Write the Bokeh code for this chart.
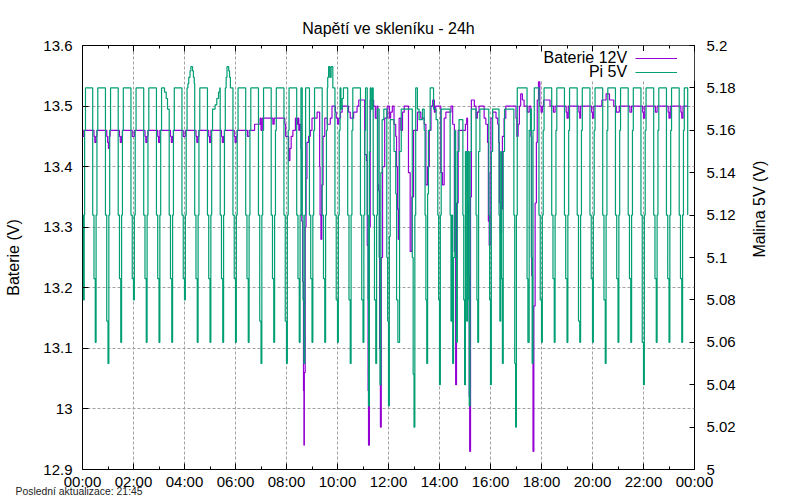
import math
from bokeh.plotting import figure
from bokeh.models import (Range1d, LinearAxis, FixedTicker, CustomJSTickFormatter,
                          Legend, LegendItem, Label, BoxAnnotation, Title)
from bokeh.embed import file_html
from bokeh.resources import INLINE

FONT = "Liberation Sans"
TITLE = "Napětí ve skleníku - 24h"
FOOTER = "Poslední aktualizace: 21:45"
BAT_NAME = "Baterie 12V"
PI_NAME = "Pi 5V"
BAT_COLOR = "#9400D3"
PI_COLOR = "#009E73"

# tick values / labels
x_ticks = [0, 2, 4, 6, 8, 10, 12, 14, 16, 18, 20, 22, 24]
x_minor = [1, 3, 5, 7, 9, 11, 13, 15, 17, 19, 21, 23]
x_labels = ["00:00", "02:00", "04:00", "06:00", "08:00", "10:00", "12:00",
            "14:00", "16:00", "18:00", "20:00", "22:00", "00:00"]
y_ticks = [12.9, 13.0, 13.1, 13.2, 13.3, 13.4, 13.5, 13.6]
y_labels = ["12.9", "13", "13.1", "13.2", "13.3", "13.4", "13.5", "13.6"]
y2_ticks = [5.0, 5.02, 5.04, 5.06, 5.08, 5.1, 5.12, 5.14, 5.16, 5.18, 5.2]
y2_labels = ["5", "5.02", "5.04", "5.06", "5.08", "5.1", "5.12", "5.14", "5.16", "5.18", "5.2"]

# ---- Baterie 12V: (minute of day, volts) ----
bat_0000_0700 = [
    (0, 13.45), (3, 13.46),
    (27, 13.45), (29, 13.44), (32, 13.45), (34, 13.46),
    (57, 13.45), (59, 13.44), (61, 13.43), (63, 13.45), (65, 13.46),
    (87, 13.45), (89, 13.44), (92, 13.45), (94, 13.46),
    (117, 13.45), (122, 13.46),
    (147, 13.45), (149, 13.44), (152, 13.45), (154, 13.46),
    (177, 13.45), (179, 13.44), (182, 13.46),
    (207, 13.45), (209, 13.44), (212, 13.45), (214, 13.46),
    (237, 13.45), (242, 13.46),
    (267, 13.45), (269, 13.44), (272, 13.45), (274, 13.46),
    (297, 13.45), (299, 13.44), (302, 13.46),
    (327, 13.45), (329, 13.44), (332, 13.45), (334, 13.46),
    (357, 13.45), (359, 13.44), (362, 13.45), (364, 13.46),
    (388, 13.45), (392, 13.46),
    (405, 13.47), (415, 13.47), (418, 13.48),
]
bat_0700_1200 = [
    (420, 13.46), (423, 13.48), (446, 13.48), (448, 13.47), (451, 13.48),
    (474, 13.48), (476, 13.47), (478, 13.45), (482, 13.45), (485, 13.41),
    (488, 13.43), (491, 13.45), (495, 13.46), (501, 13.48), (505, 13.47),
    (507, 13.48), (509, 13.46), (511, 13.47), (514, 13.43), (516, 13.31),
    (518, 13.21), (520, 13.03), (521, 12.94), (522, 13.06), (524, 13.30),
    (526, 13.38), (528, 13.44), (532, 13.45), (536, 13.46), (540, 13.48),
    (552, 13.49), (558, 13.40), (559, 13.32), (561, 13.28), (563, 13.37),
    (566, 13.45), (570, 13.48), (576, 13.47), (583, 13.48), (587, 13.50),
    (595, 13.49), (597, 13.48), (600, 13.47), (603, 13.48), (607, 13.49),
    (611, 13.50), (626, 13.49), (630, 13.48), (638, 13.49), (646, 13.50),
    (650, 13.51), (664, 13.42), (668, 13.41), (670, 13.27), (672, 13.03),
    (673, 12.94), (675, 13.30), (677, 13.51), (685, 13.50), (689, 13.48),
    (693, 13.50), (695, 13.37), (697, 13.36), (699, 13.10), (701, 12.97),
    (703, 13.25), (706, 13.40), (711, 13.48), (717, 13.50),
]
bat_1200_1800 = [
    (722, 13.48), (725, 13.49), (729, 13.50), (733, 13.47), (737, 13.45),
    (739, 13.40), (741, 13.33), (743, 13.28), (745, 13.48), (749, 13.46),
    (753, 13.49), (757, 13.50), (767, 13.39), (771, 13.26), (775, 13.35),
    (779, 13.46), (788, 13.49), (796, 13.48), (804, 13.47), (808, 13.37),
    (812, 13.40), (816, 13.46), (820, 13.50), (824, 13.51), (828, 13.49),
    (831, 13.50), (843, 13.39), (847, 13.37), (851, 13.48), (855, 13.49),
    (867, 13.50), (871, 13.47), (875, 13.26), (878, 13.04), (880, 13.34),
    (884, 13.46), (901, 13.47), (904, 13.48), (906, 13.34), (908, 13.22),
    (910, 13.02), (911, 12.93), (913, 13.35), (915, 13.51), (922, 13.50),
    (926, 13.48), (929, 13.49), (933, 13.50), (945, 13.48), (949, 13.47),
    (953, 13.44), (955, 13.31), (957, 13.27), (959, 13.39), (961, 13.48),
    (965, 13.49), (973, 13.48), (977, 13.47), (979, 13.44), (981, 13.34),
    (983, 13.29), (986, 13.33), (988, 13.45), (992, 13.48), (996, 13.50),
    (1020, 13.48), (1022, 13.45), (1025, 13.47), (1028, 13.50), (1031, 13.52),
    (1035, 13.51), (1039, 13.50), (1047, 13.49), (1051, 13.50), (1055, 13.45),
    (1057, 13.22), (1059, 13.08), (1060, 12.93), (1062, 13.17), (1065, 13.34),
    (1068, 13.44), (1070, 13.51), (1073, 13.54), (1076, 13.50),
]
bat_1800_2400 = [
    (1079, 13.49), (1082, 13.50), (1085, 13.51), (1100, 13.50), (1108, 13.49),
    (1112, 13.50), (1138, 13.49), (1140, 13.48), (1143, 13.50), (1168, 13.49),
    (1170, 13.48), (1172, 13.50), (1198, 13.49), (1200, 13.48), (1203, 13.50),
    (1222, 13.51), (1232, 13.52), (1240, 13.51), (1250, 13.50), (1256, 13.49),
    (1263, 13.50), (1288, 13.49), (1292, 13.50), (1318, 13.49), (1320, 13.48),
    (1323, 13.50), (1348, 13.49), (1352, 13.50), (1378, 13.49), (1380, 13.48),
    (1383, 13.50), (1408, 13.49), (1410, 13.48), (1413, 13.50), (1424, 13.50),
]

# ---- Pi 5V: (minute of day, volts) ----
pi_0000_0930 = [
    (0, 5.12), (2, 5.08), (4, 5.12), (5, 5.16), (7, 5.18),
    (24, 5.12), (27, 5.09), (30, 5.06), (32, 5.12), (34, 5.16), (36, 5.18),
    (54, 5.12), (57, 5.07), (60, 5.05), (62, 5.12), (64, 5.16), (66, 5.18),
    (84, 5.12), (87, 5.09), (90, 5.06), (92, 5.12), (94, 5.16), (96, 5.18),
    (114, 5.12), (117, 5.09), (120, 5.08), (122, 5.12), (124, 5.16), (126, 5.18),
    (144, 5.12), (147, 5.09), (150, 5.06), (152, 5.12), (154, 5.16), (156, 5.18),
    (174, 5.12), (177, 5.09), (180, 5.06), (182, 5.12), (184, 5.16), (186, 5.18),
    (193, 5.178), (197, 5.175), (200, 5.17),
    (204, 5.12), (207, 5.09), (210, 5.06), (212, 5.12), (214, 5.16), (216, 5.18),
    (234, 5.12), (237, 5.09), (240, 5.08), (242, 5.12), (244, 5.16), (246, 5.18),
    (248, 5.182), (250, 5.185), (253, 5.188), (255, 5.19), (259, 5.188), (261, 5.185), (263, 5.182),
    (264, 5.12), (267, 5.09), (270, 5.06), (272, 5.12), (274, 5.16), (276, 5.18),
    (294, 5.12), (297, 5.09), (300, 5.06), (302, 5.12), (304, 5.16), (306, 5.17),
    (312, 5.172), (316, 5.175), (320, 5.178), (323, 5.18),
    (324, 5.12), (327, 5.09), (330, 5.06), (332, 5.12), (334, 5.16), (336, 5.18),
    (338, 5.185), (340, 5.19), (344, 5.188), (346, 5.185), (348, 5.18),
    (354, 5.12), (357, 5.09), (360, 5.06), (362, 5.12), (364, 5.16), (366, 5.18),
    (384, 5.12), (387, 5.09), (390, 5.06), (392, 5.12), (394, 5.16), (396, 5.18),
    (414, 5.12), (417, 5.07), (420, 5.05), (422, 5.12), (424, 5.16), (426, 5.18),
    (444, 5.12), (447, 5.09), (450, 5.06), (452, 5.12), (454, 5.16), (456, 5.18),
    (474, 5.12), (477, 5.07), (480, 5.05), (482, 5.12), (484, 5.16), (486, 5.18),
    (504, 5.12), (507, 5.09), (510, 5.06), (512, 5.12), (514, 5.18),
    (517, 5.12), (519, 5.08), (521, 5.05), (523, 5.12), (525, 5.18),
    (534, 5.12), (537, 5.09), (540, 5.06), (542, 5.12), (544, 5.16), (546, 5.18),
    (564, 5.12), (567, 5.09), (570, 5.06), (572, 5.12), (574, 5.16), (576, 5.18),
]
pi_0930_1800 = [
    (577, 5.185), (579, 5.19), (582, 5.185), (585, 5.19), (589, 5.18),
    (594, 5.12), (597, 5.08), (600, 5.06), (602, 5.12), (604, 5.16), (606, 5.18),
    (608, 5.17), (611, 5.175), (614, 5.18),
    (624, 5.12), (627, 5.08), (630, 5.05), (632, 5.12), (634, 5.16), (636, 5.18),
    (654, 5.12), (657, 5.08), (660, 5.06), (662, 5.12), (664, 5.16), (666, 5.18),
    (670, 5.12), (672, 5.08), (673, 5.03), (675, 5.15), (677, 5.18), (679, 5.17), (682, 5.18),
    (684, 5.12), (687, 5.08), (690, 5.05), (692, 5.12), (694, 5.17),
    (698, 5.10), (700, 5.04), (702, 5.14), (705, 5.165), (709, 5.17),
    (716, 5.10), (718, 5.07), (720, 5.03), (722, 5.11), (724, 5.165),
    (733, 5.15), (737, 5.13), (739, 5.08), (742, 5.06), (746, 5.15), (750, 5.17),
    (776, 5.10), (778, 5.045), (780, 5.02), (782, 5.12), (784, 5.18), (788, 5.17),
    (792, 5.165), (800, 5.17),
    (804, 5.16), (806, 5.12), (808, 5.08), (810, 5.05), (812, 5.13), (814, 5.16),
    (818, 5.18), (826, 5.17), (832, 5.165),
    (836, 5.12), (838, 5.08), (840, 5.04), (842, 5.12), (844, 5.17),
    (865, 5.12), (867, 5.07), (869, 5.12), (871, 5.05), (873, 5.10), (876, 5.16),
    (878, 5.10), (880, 5.06), (882, 5.15), (886, 5.165),
    (895, 5.12), (897, 5.08), (899, 5.04), (901, 5.15), (904, 5.07), (906, 5.15),
    (909, 5.08), (910, 5.03), (912, 5.15), (915, 5.17),
    (926, 5.12), (928, 5.08), (930, 5.06), (932, 5.15), (935, 5.17),
    (956, 5.12), (958, 5.08), (960, 5.04), (962, 5.15), (965, 5.17),
    (980, 5.12), (982, 5.07), (984, 5.15), (986, 5.09), (988, 5.05), (990, 5.15), (993, 5.17),
    (1015, 5.12), (1017, 5.05), (1019, 5.02), (1021, 5.12), (1023, 5.18),
    (1046, 5.09), (1048, 5.06), (1051, 5.16), (1054, 5.17), (1056, 5.10), (1058, 5.05),
    (1060, 5.16), (1063, 5.18),
]
pi_1800_2400 = [
    (1074, 5.12), (1077, 5.08), (1080, 5.06), (1082, 5.12), (1084, 5.16), (1086, 5.18),
    (1104, 5.12), (1107, 5.09), (1110, 5.06), (1112, 5.12), (1114, 5.16), (1116, 5.18),
    (1134, 5.12), (1137, 5.09), (1140, 5.06), (1142, 5.12), (1144, 5.16), (1146, 5.18),
    (1164, 5.12), (1167, 5.07), (1170, 5.06), (1172, 5.12), (1174, 5.16), (1176, 5.18),
    (1194, 5.12), (1197, 5.09), (1200, 5.06), (1202, 5.12), (1204, 5.16), (1206, 5.18),
    (1224, 5.12), (1227, 5.08), (1230, 5.05), (1232, 5.12), (1234, 5.16), (1236, 5.18),
    (1254, 5.12), (1257, 5.09), (1260, 5.06), (1262, 5.12), (1264, 5.16), (1266, 5.18),
    (1284, 5.12), (1287, 5.09), (1290, 5.06), (1292, 5.12), (1294, 5.16), (1296, 5.18),
    (1314, 5.12), (1317, 5.06), (1320, 5.04), (1322, 5.12), (1324, 5.16), (1326, 5.18),
    (1344, 5.12), (1347, 5.09), (1350, 5.06), (1352, 5.12), (1354, 5.16), (1356, 5.18),
    (1374, 5.12), (1377, 5.09), (1380, 5.06), (1382, 5.12), (1384, 5.16), (1386, 5.18),
    (1404, 5.12), (1407, 5.09), (1410, 5.06), (1412, 5.12), (1414, 5.16), (1416, 5.18),
    (1424, 5.12),
]

bat_pts = bat_0000_0700 + bat_0700_1200 + bat_1200_1800 + bat_1800_2400
pi_pts = pi_0000_0930 + pi_0930_1800 + pi_1800_2400
bat_x = [m / 60.0 for m, _ in bat_pts]
bat_y = [v for _, v in bat_pts]
pi_x = [m / 60.0 for m, _ in pi_pts]
pi_y = [v for _, v in pi_pts]

LOOKUP = """
let best = 0;
for (let i = 0; i < tv.length; i++) {
  if (Math.abs(tv[i] - tick) < Math.abs(tv[best] - tick)) best = i;
}
return tl[best];
"""

def fmt(tvals, tlabels):
    return CustomJSTickFormatter(args=dict(tv=tvals, tl=tlabels), code=LOOKUP)

p = figure(width=796, height=496, x_range=Range1d(0, 24), y_range=Range1d(12.9, 13.6),
           output_backend="svg", toolbar_location=None,
           min_border_left=82, min_border_right=102, min_border_top=45, min_border_bottom=27,
           background_fill_color="white", border_fill_color="white")
p.extra_y_ranges = {"y2": Range1d(5.0, 5.2)}

p.title.text = TITLE
p.title.align = "center"
p.title.text_font = FONT
p.title.text_font_size = "16px"
p.title.text_font_style = "normal"
p.title.text_color = "black"
p.title.standoff = 18

p.outline_line_color = "black"
p.outline_line_width = 1
p.outline_line_alpha = 1

def style_axis(ax, tick_in=6, minor_in=3):
    ax.axis_line_color = None
    ax.major_tick_in = tick_in
    ax.major_tick_out = 0
    ax.minor_tick_in = minor_in
    ax.minor_tick_out = 0
    ax.major_tick_line_color = "black"
    ax.minor_tick_line_color = "black"
    ax.major_label_text_font = FONT
    ax.major_label_text_font_size = "15px"
    ax.major_label_text_color = "black"
    ax.axis_label_text_font = FONT
    ax.axis_label_text_font_size = "16px"
    ax.axis_label_text_font_style = "normal"
    ax.axis_label_text_color = "black"

xt = FixedTicker(ticks=x_ticks, minor_ticks=x_minor)
xa = p.xaxis[0]
xa.ticker = xt
xa.formatter = fmt(x_ticks, x_labels)
style_axis(xa)
xa.major_label_standoff = 3

ya = p.yaxis[0]
ya.ticker = FixedTicker(ticks=y_ticks, minor_ticks=[])
ya.formatter = fmt(y_ticks, y_labels)
ya.axis_label = "Baterie (V)"
style_axis(ya)
ya.minor_tick_line_color = None
ya.major_label_standoff = 10
ya.axis_label_standoff = 18

y2 = LinearAxis(y_range_name="y2",
                ticker=FixedTicker(ticks=y2_ticks, minor_ticks=[]),
                formatter=fmt(y2_ticks, y2_labels),
                axis_label="Malina 5V (V)")
style_axis(y2, tick_in=5)
y2.minor_tick_line_color = None
y2.major_label_standoff = 12
y2.axis_label_standoff = 21
y2.axis_label_orientation = math.pi / 2
p.add_layout(y2, "right")

top = LinearAxis(ticker=FixedTicker(ticks=x_ticks, minor_ticks=x_minor),
                 formatter=CustomJSTickFormatter(code="return ''"))
style_axis(top)
top.major_label_text_font_size = "1px"
top.major_label_standoff = 0
p.add_layout(top, "above")

for g in (p.xgrid[0], p.ygrid[0]):
    g.grid_line_color = "#a0a0a0"
    g.grid_line_dash = "3 2"
    g.grid_line_width = 1
p.xgrid[0].ticker = xt
p.ygrid[0].ticker = FixedTicker(ticks=y_ticks)

# opaque key area
key_box = BoxAnnotation(left=17.87, right=24, bottom=13.542, top=13.6,
                        fill_color="white", fill_alpha=1, line_color=None, level="underlay")
p.add_layout(key_box)

r_bat = p.step(bat_x, bat_y, mode="after", line_color=BAT_COLOR, line_width=1.2)
r_pi = p.step(pi_x, pi_y, mode="after", line_color=PI_COLOR, line_width=1.2, y_range_name="y2")

legend = Legend(items=[LegendItem(label=" ", renderers=[r_bat]),
                       LegendItem(label=" ", renderers=[r_pi])],
                location="top_right", glyph_width=42, glyph_height=14,
                label_width=11, label_height=14, label_standoff=0,
                label_text_font_size="10px", padding=0, spacing=0, margin=6,
                border_line_color=None, background_fill_color="white",
                background_fill_alpha=1)
p.add_layout(legend)

for txt, yv in ((BAT_NAME, 13.580), (PI_NAME, 13.557)):
    p.add_layout(Label(x=21.36, y=yv, text=txt, text_align="right", text_baseline="middle",
                       text_font=FONT, text_font_size="16px", text_color="black"))

footer = Title(text=FOOTER, align="left", offset=-67, standoff=-13, vertical_align="top",
               text_font=FONT, text_font_size="10.4px", text_font_style="normal",
               text_color="#222222")
p.add_layout(footer, "below")

open("out.html", "w").write(file_html(p, INLINE))
